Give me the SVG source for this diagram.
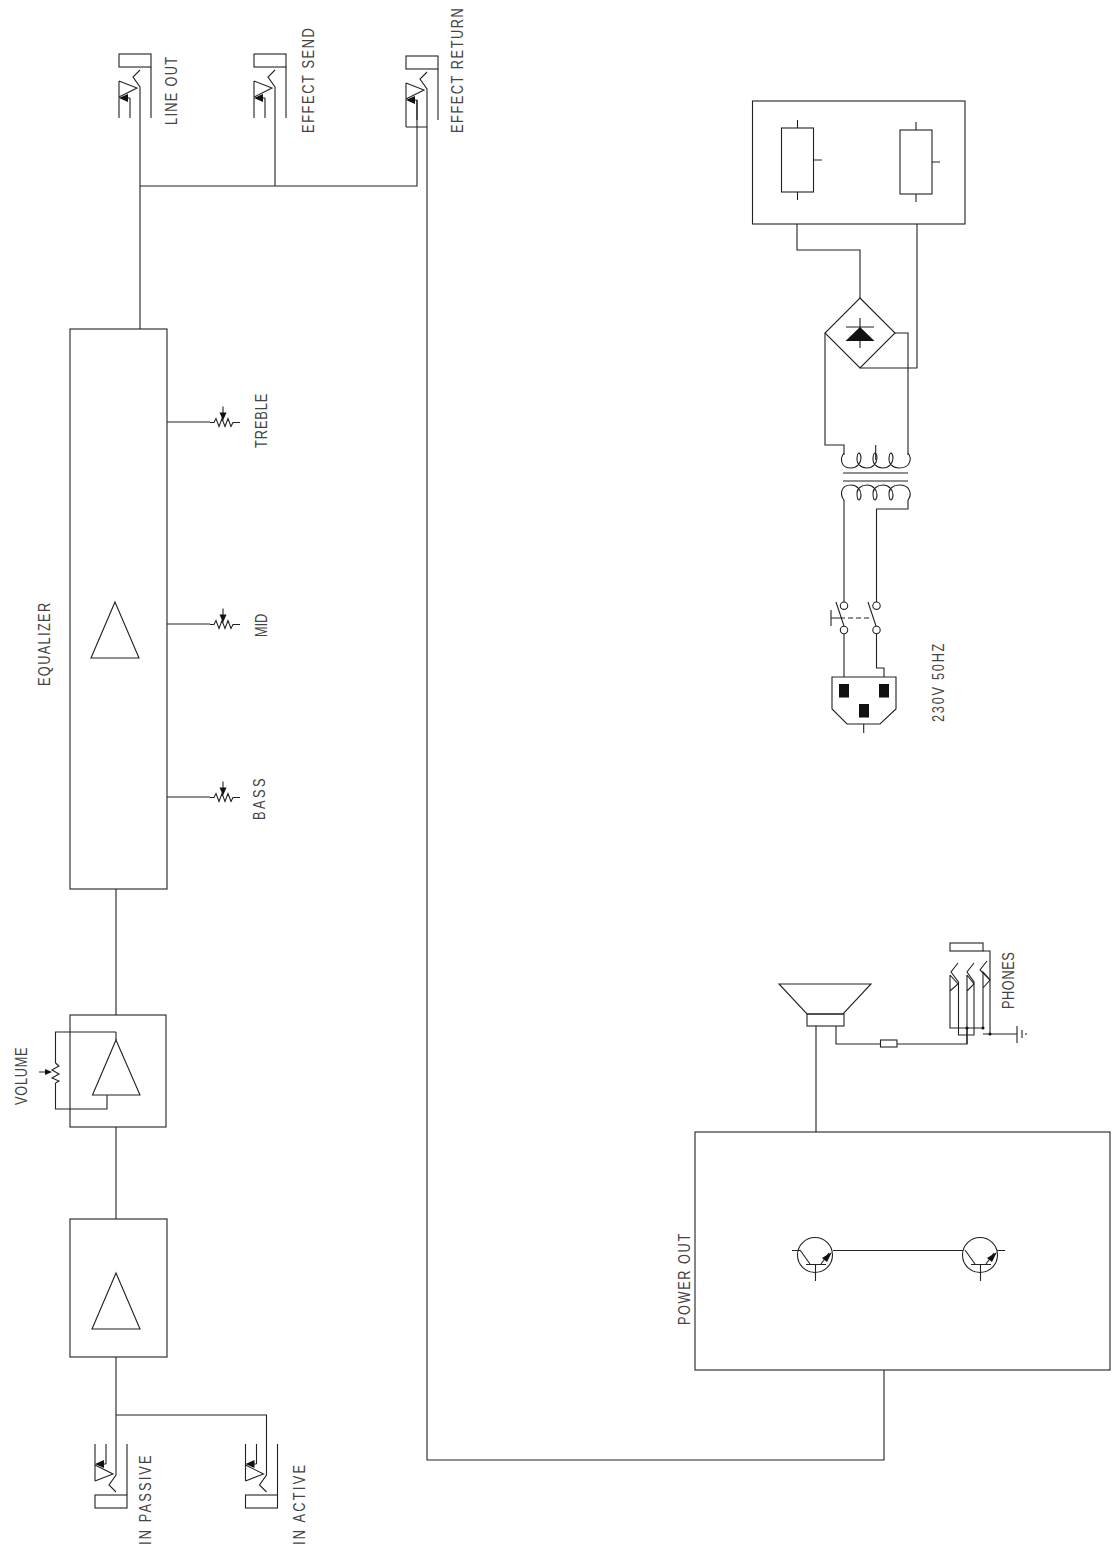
<svg xmlns="http://www.w3.org/2000/svg" width="1119" height="1548" viewBox="0 0 1119 1548">
<style>
.l{fill:none;stroke:#222;stroke-width:1.1}
.b{fill:#111;stroke:none}
text{font-family:"Liberation Sans",Arial,sans-serif;font-size:16px;fill:#444;stroke:none}
</style>
<defs>
<g id="jack">
<rect class="l" x="119" y="54" width="32" height="13"/>
<path class="l" d="M151 67V118M140 70L133 77L140 87V118M119 81V118M119 81L137 88L119 97M130 98V118M122 98H130"/>
<path class="b" d="M119 98L128 94V102Z"/>
</g>
<g id="pot">
<path class="l" d="M0 0H4L6 -4L9 4L12 -4L15 4L18 -4L21 4L23 0H30"/>
<path class="l" d="M13 -16V-8"/>
<path class="b" d="M13 -2L9.500 -10H16.500Z"/>
</g>
<g id="trans">
<circle class="l" cx="0" cy="0" r="17.500"/>
<path class="l" d="M-15 -5L-5 9M-9 9.500H11M0.500 9.500V26M6 9L14 -2"/>
<path class="b" d="M17 -3L7 3L12 7Z"/>
</g>
<path id="coil" class="l" d="M0 0C-4 5 -4 15 7 15C13 15 17 10 17 5C17 1 15 0 15 0C13 0 13 5 13 7C13 11 17 15 23 15C29 15 33 10 33 5C33 1 31 0 31 0C29 0 29 5 29 7C29 11 33 15 39 15C45 15 49 10 49 5C49 1 47 0 47 0C45 0 45 5 45 7C45 11 49 15 55 15C67 15 68 5 64 0"/>
</defs>

<g id="connectors">
<path class="l" d="M140 118V329M140 186H417V100M275 118V186"/>
<path class="l" d="M427 120V1460H884V1370M406 127H427"/>
<path class="l" d="M116 889V1015M116 1127V1219M116 1357V1444M116 1415H266.500V1444"/>
<path class="l" d="M167 422H210M167 624H210M167 797H210"/>
<path class="l" d="M116 1032V1040M116 1032H55.500V1063M55.500 1083V1109H107V1095"/>
<path class="l" d="M816 1026V1132M836 1026V1044H880.500M897 1044H967V1028"/>
<path class="l" d="M797 224V250H860V298M917 224V368H860"/>
<path class="l" d="M895 333H908V455M825 333V445H844V455M875.700 445V460"/>
<path class="l" d="M844 500V602M908 500V509H876.500V602M844 634V677M876.500 634V668H884V677"/>
</g>

<g id="line-out"><use href="#jack"/><text transform="translate(177,125) rotate(-90) scale(.8,1)" textLength="85">LINE OUT</text></g>
<g id="effect-send"><use href="#jack" x="135"/><text transform="translate(314,133) rotate(-90) scale(.8,1)" textLength="131">EFFECT SEND</text></g>
<g id="effect-return"><use href="#jack" x="287" y="2"/><path class="l" d="M406 120V127"/><text transform="translate(463,133) rotate(-90) scale(.8,1)" textLength="156">EFFECT RETURN</text></g>

<g id="equalizer">
<rect class="l" x="70" y="329" width="97" height="560"/>
<path class="l" d="M115 602L139 658H91Z"/>
<text transform="translate(50,686) rotate(-90) scale(.8,1)" textLength="104">EQUALIZER</text>
</g>
<g id="treble"><use href="#pot" x="210" y="422.500"/><text transform="translate(267,448) rotate(-90) scale(.8,1)" textLength="68">TREBLE</text></g>
<g id="mid"><use href="#pot" x="210" y="624.500"/><text transform="translate(267,637) rotate(-90) scale(.8,1)" textLength="29">MID</text></g>
<g id="bass"><use href="#pot" x="210" y="797.500"/><text transform="translate(265,820) rotate(-90) scale(.8,1)" textLength="52">BASS</text></g>

<g id="volume-amp">
<rect class="l" x="70" y="1015" width="96" height="112"/>
<path class="l" d="M116 1040L140 1095H92.500Z"/>
<path class="l" d="M55.500 1063L59 1066L52 1070L59 1074L52 1078L59 1081L55.500 1083M39 1072H46"/>
<path class="b" d="M52 1072L45 1069V1075Z"/>
<text transform="translate(27,1105) rotate(-90) scale(.8,1)" textLength="72">VOLUME</text>
</g>
<g id="preamp">
<rect class="l" x="70" y="1219" width="97" height="138"/>
<path class="l" d="M116 1273L140 1329H92Z"/>
</g>
<g id="in-passive"><use href="#jack" transform="matrix(1 0 0 -1 -24 1562)"/><text transform="translate(151,1545) rotate(-90) scale(.8,1)" textLength="112">IN PASSIVE</text></g>
<g id="in-active"><use href="#jack" transform="matrix(1 0 0 -1 126.500 1562)"/><text transform="translate(305,1545) rotate(-90) scale(.8,1)" textLength="100">IN ACTIVE</text></g>

<g id="power-out">
<rect class="l" x="695" y="1132" width="415" height="238"/>
<path class="l" d="M833 1250.500H963M792 1250.500H800M997 1250.500H1005"/>
<use href="#trans" x="815" y="1255"/>
<use href="#trans" x="980" y="1255"/>
<text transform="translate(690,1325) rotate(-90) scale(.8,1)" textLength="114">POWER OUT</text>
</g>

<g id="speaker">
<path class="l" d="M779 984H871L843 1014H807Z"/>
<rect class="l" x="807" y="1014" width="37" height="12"/>
</g>
<g id="resistor"><rect class="l" x="880.500" y="1040" width="16.500" height="7"/></g>
<g id="phones">
<rect class="l" x="950" y="943" width="33" height="8"/>
<path class="l" d="M983 951H990V1034M983 1034H1017M1017 1026V1043M1022 1030V1038M1026 1033V1035"/>
<path class="l" d="M958 963L951 972L958.500 982V1035H974V982L967 972L974 963"/>
<path class="l" d="M987 961L980 970L990 980"/>
<path class="l" d="M950 975V1028H983V972L990 980L983 988M950 975L958 984L950 991M967 975V1044M967 975L974 984L967 991"/>
<path class="b" d="M965.500 1028a1.500 1.500 0 1 0 3 0a1.500 1.500 0 1 0 -3 0M981.500 1028a1.500 1.500 0 1 0 3 0a1.500 1.500 0 1 0 -3 0M988.500 1034a1.500 1.500 0 1 0 3 0a1.500 1.500 0 1 0 -3 0"/>
<text transform="translate(1014,1009) rotate(-90) scale(.8,1)" textLength="71">PHONES</text>
</g>

<g id="supply-board">
<rect class="l" x="752.500" y="101" width="212.500" height="123"/>
<rect class="l" x="781.500" y="128" width="32" height="64"/>
<rect class="l" x="900" y="130" width="32" height="64"/>
<path class="l" d="M797.500 120V128M797.500 192V200M813.500 160H822M916 122V130M916 194V202M932 162H940"/>
</g>
<g id="bridge">
<path class="l" d="M860 298L895 333L860 368L825 333Z"/>
<path class="l" d="M846 327H874M860 318V348"/>
<path class="b" d="M860 327L874.500 341H845.500Z"/>
</g>
<g id="transformer">
<use href="#coil" x="844" y="453"/>
<use href="#coil" transform="matrix(1 0 0 -1 844 500)"/>
<path class="l" d="M843 473H908M843 481H908"/>
</g>
<g id="switch">
<circle class="l" cx="844" cy="605.700" r="3.700"/>
<circle class="l" cx="876.500" cy="605.700" r="3.700"/>
<circle class="l" cx="844" cy="630" r="3.700"/>
<circle class="l" cx="876.500" cy="630" r="3.700"/>
<path class="l" d="M836 602L844 626M868 602L876 626M831 610V626M831 618H840"/>
<path class="l" d="M840 618H872" stroke-dasharray="5 3"/>
</g>
<g id="mains-socket">
<path class="l" d="M832 677H896V709L880 724H847L832 709ZM863.700 724V733"/>
<rect class="b" x="839" y="684" width="10" height="13.500"/>
<rect class="b" x="879" y="684" width="10" height="13.500"/>
<rect class="b" x="859" y="704" width="10" height="13.500"/>
<text transform="translate(944,722) rotate(-90) scale(.8,1)" textLength="98">230V  50HZ</text>
</g>
</svg>
